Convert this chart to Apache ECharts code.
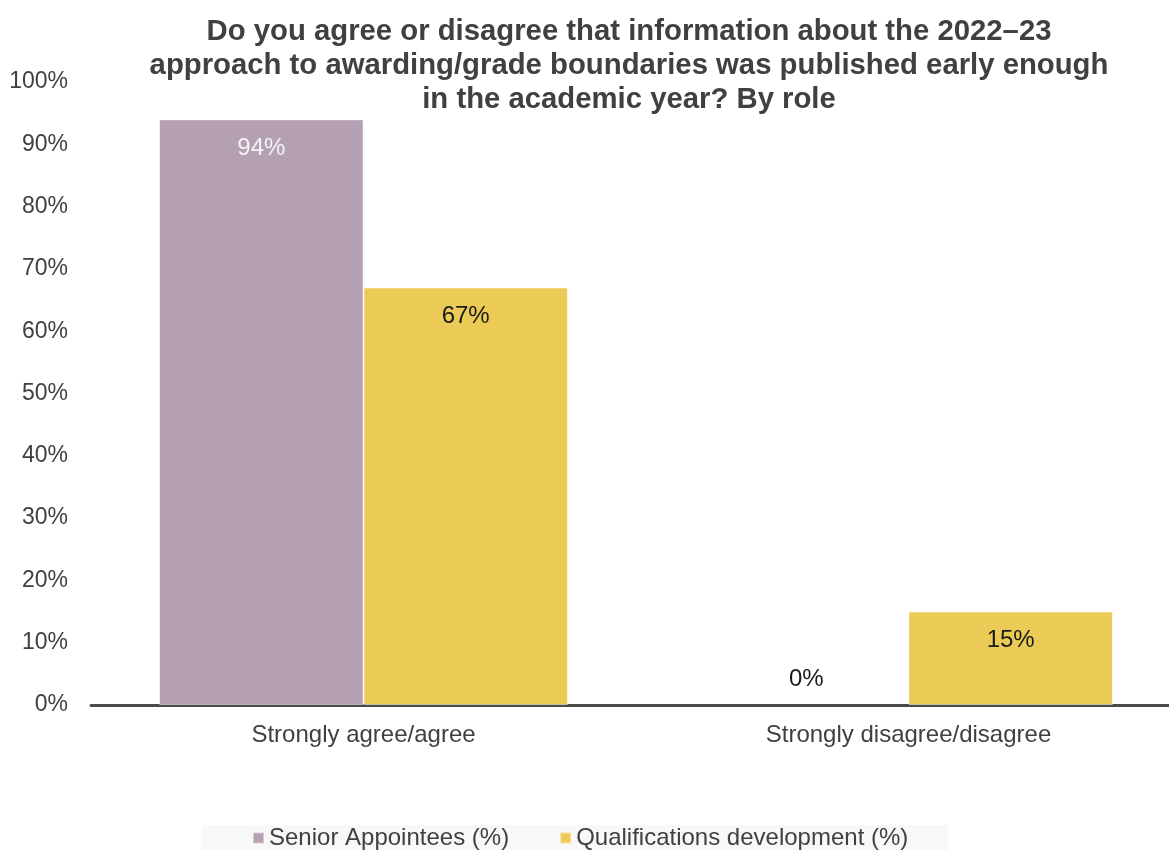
<!DOCTYPE html>
<html>
<head>
<meta charset="utf-8">
<script src="https://cdn.jsdelivr.net/npm/echarts@6/dist/echarts.min.js"></script>
<style>
  html, body { margin: 0; padding: 0; background: #ffffff; }
  #chart { width: 1169px; height: 850px; }
</style>
</head>
<body>
<div id="chart"></div>
<script>
// Survey responses by role
const categories = ['Strongly agree/agree', 'Strongly disagree/disagree'];
const seniorAppointees = [94, 0];
const qualificationsDevelopment = [67, 15];
const seriesNames = ['Senior Appointees (%)', 'Qualifications development (%)'];
const titleText = 'Do you agree or disagree that information about the 2022\u201323\napproach to awarding/grade boundaries was published early enough\nin the academic year? By role';

const FONT = '"Liberation Sans", Arial, sans-serif';
const PURPLE = '#b59fb3';
const YELLOW = '#ebcb55';

// Zero-height bars get their label above the axis instead of inside, and no outline
function withLabels(values, color) {
  return values.map(v => v === 0
    ? { value: v, itemStyle: { borderWidth: 0 }, label: { position: 'top', distance: 14, color: '#1a1a1a' } }
    : { value: v, label: { color: color } });
}

const chart = echarts.init(document.getElementById('chart'), null, { renderer: 'canvas' });

chart.setOption({
  backgroundColor: '#ffffff',
  animation: false,
  title: {
    text: titleText,
    left: 624,
    top: 10,
    textAlign: 'center',
    textStyle: {
      fontFamily: FONT,
      fontWeight: 'bold',
      fontSize: 29.3,
      lineHeight: 34,
      color: '#404040'
    }
  },
  graphic: [{
    type: 'rect',
    left: 202,
    top: 825,
    shape: { width: 746, height: 25 },
    style: { fill: '#f8f8f8' },
    z: -1
  }],
  legend: {
    left: 247,
    top: 821,
    itemWidth: 11,
    itemHeight: 11,
    itemGap: 50,
    icon: 'rect',
    textStyle: { fontFamily: FONT, fontSize: 24, color: '#404040' },
    data: seriesNames
  },
  grid: {
    left: 91,
    width: 1090,
    top: 82,
    bottom: 145,
    containLabel: false,
    outerBoundsMode: 'none'
  },
  xAxis: {
    type: 'category',
    data: categories,
    axisLine: { show: true, lineStyle: { color: '#4a4a4a', width: 3 } },
    axisTick: { show: false },
    axisLabel: { fontFamily: FONT, fontSize: 24, color: '#404040', margin: 18 }
  },
  yAxis: {
    type: 'value',
    min: 0,
    max: 100,
    interval: 10,
    axisLine: { show: false },
    axisTick: { show: false },
    splitLine: { show: false },
    axisLabel: {
      fontFamily: FONT, fontSize: 23, color: '#404040', margin: 23,
      formatter: '{value}%'
    }
  },
  series: [
    {
      name: seriesNames[0],
      type: 'bar',
      barGap: '0%',
      barCategoryGap: '25%',
      itemStyle: { color: PURPLE, borderColor: 'rgba(255,255,255,0.45)', borderWidth: 1 },
      label: {
        show: true,
        position: 'insideTop',
        distance: 17,
        fontFamily: FONT,
        fontSize: 24,
        formatter: '{c}%'
      },
      data: withLabels(seniorAppointees, '#f4f4f4')
    },
    {
      name: seriesNames[1],
      type: 'bar',
      barGap: '0%',
      barCategoryGap: '25%',
      itemStyle: { color: YELLOW, borderColor: 'rgba(255,255,255,0.45)', borderWidth: 1 },
      label: {
        show: true,
        position: 'insideTop',
        distance: 17,
        fontFamily: FONT,
        fontSize: 24,
        formatter: '{c}%'
      },
      data: withLabels(qualificationsDevelopment, '#1a1a1a')
    }
  ]
});
</script>
</body>
</html>
